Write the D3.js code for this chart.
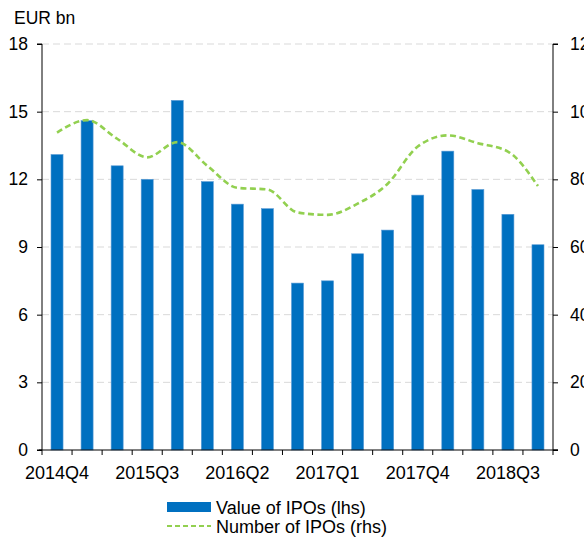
<!DOCTYPE html>
<html>
<head>
<meta charset="utf-8">
<script src="https://cdn.jsdelivr.net/npm/d3@7/dist/d3.min.js"></script>
<style>
  html, body { margin: 0; padding: 0; background: #fff; }
  svg { display: block; font-family: "Liberation Sans", Arial, sans-serif; }
</style>
</head>
<body>
<svg id="chart" width="584" height="538"></svg>
<script>
// Quarterly IPO activity
const quarters = [
  "2014Q4", "2015Q1", "2015Q2", "2015Q3", "2015Q4", "2016Q1", "2016Q2", "2016Q3",
  "2016Q4", "2017Q1", "2017Q2", "2017Q3", "2017Q4", "2018Q1", "2018Q2", "2018Q3", "2018Q4"
];
// Value of IPOs, EUR bn (left axis)
const ipoValue = [13.1, 14.6, 12.6, 12.0, 15.5, 11.9, 10.9, 10.7, 7.4, 7.5, 8.7, 9.75, 11.3, 13.25, 11.55, 10.45, 9.1];
// Number of IPOs (right axis)
const ipoCount = [93.8, 97.5, 92.0, 86.5, 91.0, 84.0, 77.5, 77.0, 70.2, 69.5, 72.8, 78.7, 89.7, 93.0, 90.7, 88.2, 78.0];
// Axis ticks and category labels (every third quarter is labelled)
const leftTicks = [0, 3, 6, 9, 12, 15, 18];
const rightTicks = [0, 20, 40, 60, 80, 100, 120];
const xLabels = ["2014Q4", "2015Q3", "2016Q2", "2017Q1", "2017Q4", "2018Q3"];
const seriesNames = ["Value of IPOs (lhs)", "Number of IPOs (rhs)"];

const svg = d3.select("#chart");
const plot = { left: 42, right: 553, top: 44, bottom: 450 };
const blue = "#0070C0", green = "#92D050";

const x = d3.scaleBand().domain(quarters).range([plot.left, plot.right]).paddingInner(0.6).paddingOuter(0.3);
const band = d3.scaleBand().domain(quarters).range([plot.left, plot.right]);
const yL = d3.scaleLinear().domain([0, 18]).range([plot.bottom, plot.top]);
const yR = d3.scaleLinear().domain([0, 120]).range([plot.bottom, plot.top]);
const mid = q => band(q) + band.bandwidth() / 2;

// Horizontal gridlines
svg.append("g").selectAll("line").data(leftTicks.filter(d => d > 0)).join("line")
  .attr("x1", plot.left).attr("x2", plot.right)
  .attr("y1", d => yL(d)).attr("y2", d => yL(d))
  .attr("stroke", "#d9d9d9").attr("stroke-width", 1)
  .attr("stroke-dasharray", "7,4");

// Bars
svg.append("g").selectAll("rect").data(ipoValue).join("rect")
  .attr("x", (d, i) => x(quarters[i]))
  .attr("y", d => yL(d))
  .attr("width", x.bandwidth())
  .attr("height", d => plot.bottom - yL(d))
  .attr("fill", blue)
  .attr("stroke", "#5a9bd5").attr("stroke-width", 0.6);

// Line series
const line = d3.line()
  .x((d, i) => mid(quarters[i]))
  .y(d => yR(d))
  .curve(d3.curveMonotoneX);
svg.append("path").datum(ipoCount)
  .attr("d", line)
  .attr("fill", "none").attr("stroke", green)
  .attr("stroke-width", 2.6).attr("stroke-dasharray", "6,3.5");

// Left axis
const axL = svg.append("g").attr("transform", `translate(${plot.left},0)`)
  .call(d3.axisLeft(yL).tickValues(leftTicks).tickSize(5).tickPadding(9));
// Right axis
const axR = svg.append("g").attr("transform", `translate(${plot.right},0)`)
  .call(d3.axisRight(yR).tickValues(rightTicks).tickSize(5).tickPadding(12));
// Bottom axis with tick marks at category boundaries
const axB = svg.append("g").attr("transform", `translate(0,${plot.bottom})`);
axB.append("line").attr("x1", plot.left - 3).attr("x2", plot.right + 5)
  .attr("y1", 0).attr("y2", 0).attr("stroke", "#000");
axB.selectAll("line.tk").data(quarters.concat(["end"])).join("line").attr("class", "tk")
  .attr("x1", (d, i) => plot.left + i * band.step()).attr("x2", (d, i) => plot.left + i * band.step())
  .attr("y1", 0).attr("y2", 5).attr("stroke", "#000");
axB.selectAll("text").data(xLabels).join("text")
  .attr("x", d => mid(d)).attr("y", 29)
  .attr("text-anchor", "middle").attr("font-size", 18).attr("fill", "#000")
  .text(d => d);

[axL, axR].forEach(g => {
  g.select(".domain").attr("stroke", "#000");
  g.selectAll(".tick line").attr("stroke", "#000");
  g.selectAll(".tick text").attr("font-size", 17.5).attr("fill", "#000")
    .attr("font-family", "Liberation Sans, Arial, sans-serif");
});
axL.select(".domain").attr("d", `M-5,${plot.top}H0V${plot.bottom}H-5`);
axR.select(".domain").attr("d", `M5,${plot.top}H0V${plot.bottom}H5`);

// Unit label
svg.append("text").attr("x", 14).attr("y", 24)
  .attr("font-size", 17.5).attr("fill", "#000").text("EUR bn");

// Legend
const lg = svg.append("g");
lg.append("rect").attr("x", 167).attr("y", 502).attr("width", 44).attr("height", 10).attr("fill", blue);
lg.append("line").attr("x1", 167).attr("x2", 211).attr("y1", 526).attr("y2", 526)
  .attr("stroke", green).attr("stroke-width", 2).attr("stroke-dasharray", "5,3");
lg.selectAll("text").data(seriesNames).join("text")
  .attr("x", 216).attr("y", (d, i) => 514 + i * 19)
  .attr("font-size", 18).attr("fill", "#000").text(d => d);
</script>
</body>
</html>
